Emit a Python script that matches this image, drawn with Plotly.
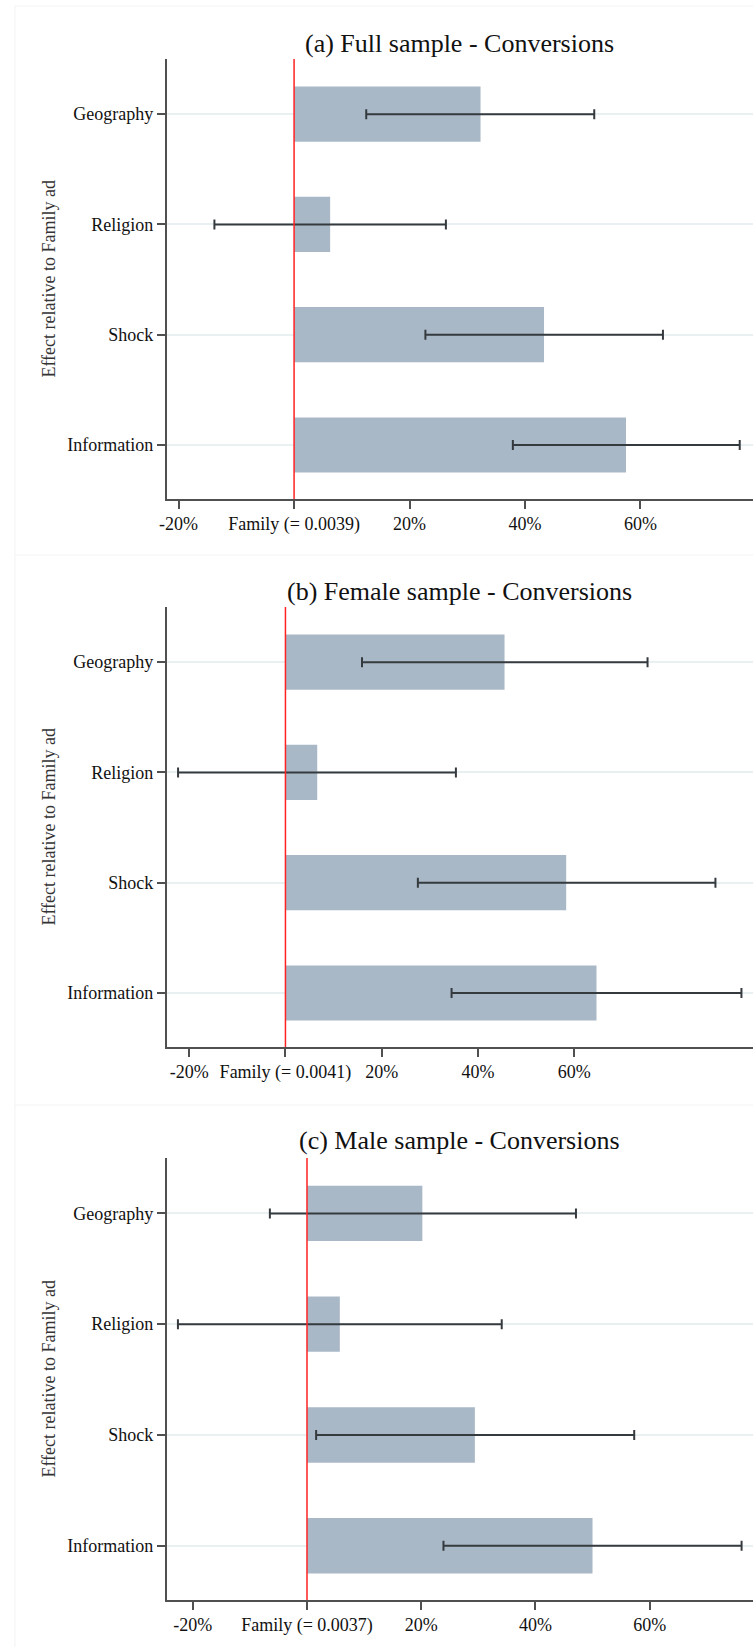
import plotly.graph_objects as go

# categories, bottom to top on the y axis
categories = ["Information", "Shock", "Religion", "Geography"]

# point estimates and 95% CI bounds, in percent relative to the Family ad
full_est = [57.5, 43.3, 6.25, 32.3]
full_lo = [37.9, 22.75, -13.8, 12.5]
full_hi = [77.2, 63.9, 26.3, 52.0]

female_est = [64.6, 58.3, 6.6, 45.5]
female_lo = [34.5, 27.5, -22.3, 15.9]
female_hi = [94.7, 89.3, 35.4, 75.2]

male_est = [50.0, 29.4, 5.75, 20.2]
male_lo = [23.9, 1.6, -22.6, -6.5]
male_hi = [76.1, 57.3, 34.1, 47.1]

titles = ["(a) Full sample - Conversions",
          "(b) Female sample - Conversions",
          "(c) Male sample - Conversions"]
family_base = ["0.0039", "0.0041", "0.0037"]
tick_vals = [-20, 0, 20, 40, 60]
x_ranges = [[-22.1, 79.5], [-24.7, 97.1], [-24.6, 78.1]]

W, H = 753, 1647
FONT = "Liberation Serif"
BAR = "#a9b8c7"
AXIS = "#505050"

# pixel layout of each panel (top, bottom of plot area, title y)
panels = [(59, 499, 44), (607, 1047, 591), (1158, 1600, 1140)]
x_left = 161

def py(v):
    return 1 - v / H

fig = go.Figure()
series = [(full_est, full_lo, full_hi), (female_est, female_lo, female_hi),
          (male_est, male_lo, male_hi)]

layout = dict(
    width=W, height=H,
    margin=dict(l=0, r=0, t=0, b=0),
    plot_bgcolor="white", paper_bgcolor="white",
    showlegend=False, bargap=0.5,
    font=dict(family=FONT, size=18, color="#111111"),
)
annotations = []
shapes = []

for i, (est, lo, hi) in enumerate(series):
    n = i + 1
    xa = "x" if n == 1 else f"x{n}"
    ya = "y" if n == 1 else f"y{n}"
    plus = [h - e for h, e in zip(hi, est)]
    minus = [e - l for e, l in zip(est, lo)]
    fig.add_trace(go.Bar(
        x=est, y=categories, orientation="h",
        marker=dict(color=BAR, line=dict(width=0)),
        width=0.5,
        error_x=dict(type="data", symmetric=False, array=plus, arrayminus=minus,
                     color="#353a3f", thickness=2, width=5),
        xaxis=xa, yaxis=ya,
    ))
    top, bottom, ty = panels[i]
    ticktext = ["-20%", f"Family (= {family_base[i]})", "20%", "40%", "60%"]
    layout["xaxis" if n == 1 else f"xaxis{n}"] = dict(
        domain=[x_left / W, 1.0], anchor=ya, range=x_ranges[i],
        tickvals=tick_vals, ticktext=ticktext,
        showline=True, linecolor=AXIS, linewidth=1.5,
        ticks="outside", ticklen=8, tickwidth=1.5, tickcolor=AXIS,
        showgrid=False, zeroline=False,
        tickfont=dict(family=FONT, size=18, color="#111111"),
    )
    layout["yaxis" if n == 1 else f"yaxis{n}"] = dict(
        domain=[py(bottom), py(top)], anchor=xa,
        type="category", categoryorder="array", categoryarray=categories,
        range=[-0.49, 3.5],
        showline=True, linecolor=AXIS, linewidth=1.5,
        ticks="outside", ticklen=8, tickwidth=1.5, tickcolor=AXIS,
        showgrid=True, gridcolor="#e9f0f2", gridwidth=1.5, zeroline=False,
        tickfont=dict(family=FONT, size=18, color="#111111"),
    )
    # reference line at the Family ad level
    shapes.append(dict(type="line", xref=xa, yref=f"{ya} domain",
                       x0=0, x1=0, y0=0, y1=1,
                       line=dict(color="#ff2222", width=1.5)))
    annotations.append(dict(
        text=titles[i], xref="paper", yref="paper",
        x=(x_left / W + 1) / 2, y=py(ty), xanchor="center", yanchor="middle",
        showarrow=False, font=dict(family=FONT, size=26, color="#111111")))
    annotations.append(dict(
        text="Effect relative to Family ad", xref="paper", yref="paper",
        x=42 / W, y=py((top + bottom) / 2), textangle=-90,
        xanchor="center", yanchor="middle", showarrow=False,
        font=dict(family=FONT, size=18, color="#333333")))

# faint panel frames
for yy in [6, 555, 1105]:
    shapes.append(dict(type="line", xref="paper", yref="paper",
                       x0=8 / W, x1=1, y0=py(yy), y1=py(yy),
                       line=dict(color="#f3f3f3", width=1)))
shapes.append(dict(type="line", xref="paper", yref="paper",
                   x0=8 / W, x1=8 / W, y0=0, y1=py(6),
                   line=dict(color="#f3f3f3", width=1)))

layout["annotations"] = annotations
layout["shapes"] = shapes
fig.update_layout(**layout)

# drop the browser's default body margin so the figure fills the window
fig.write_html("out.html", config={"displayModeBar": False},
               post_script="document.body.style.margin = '0';")
